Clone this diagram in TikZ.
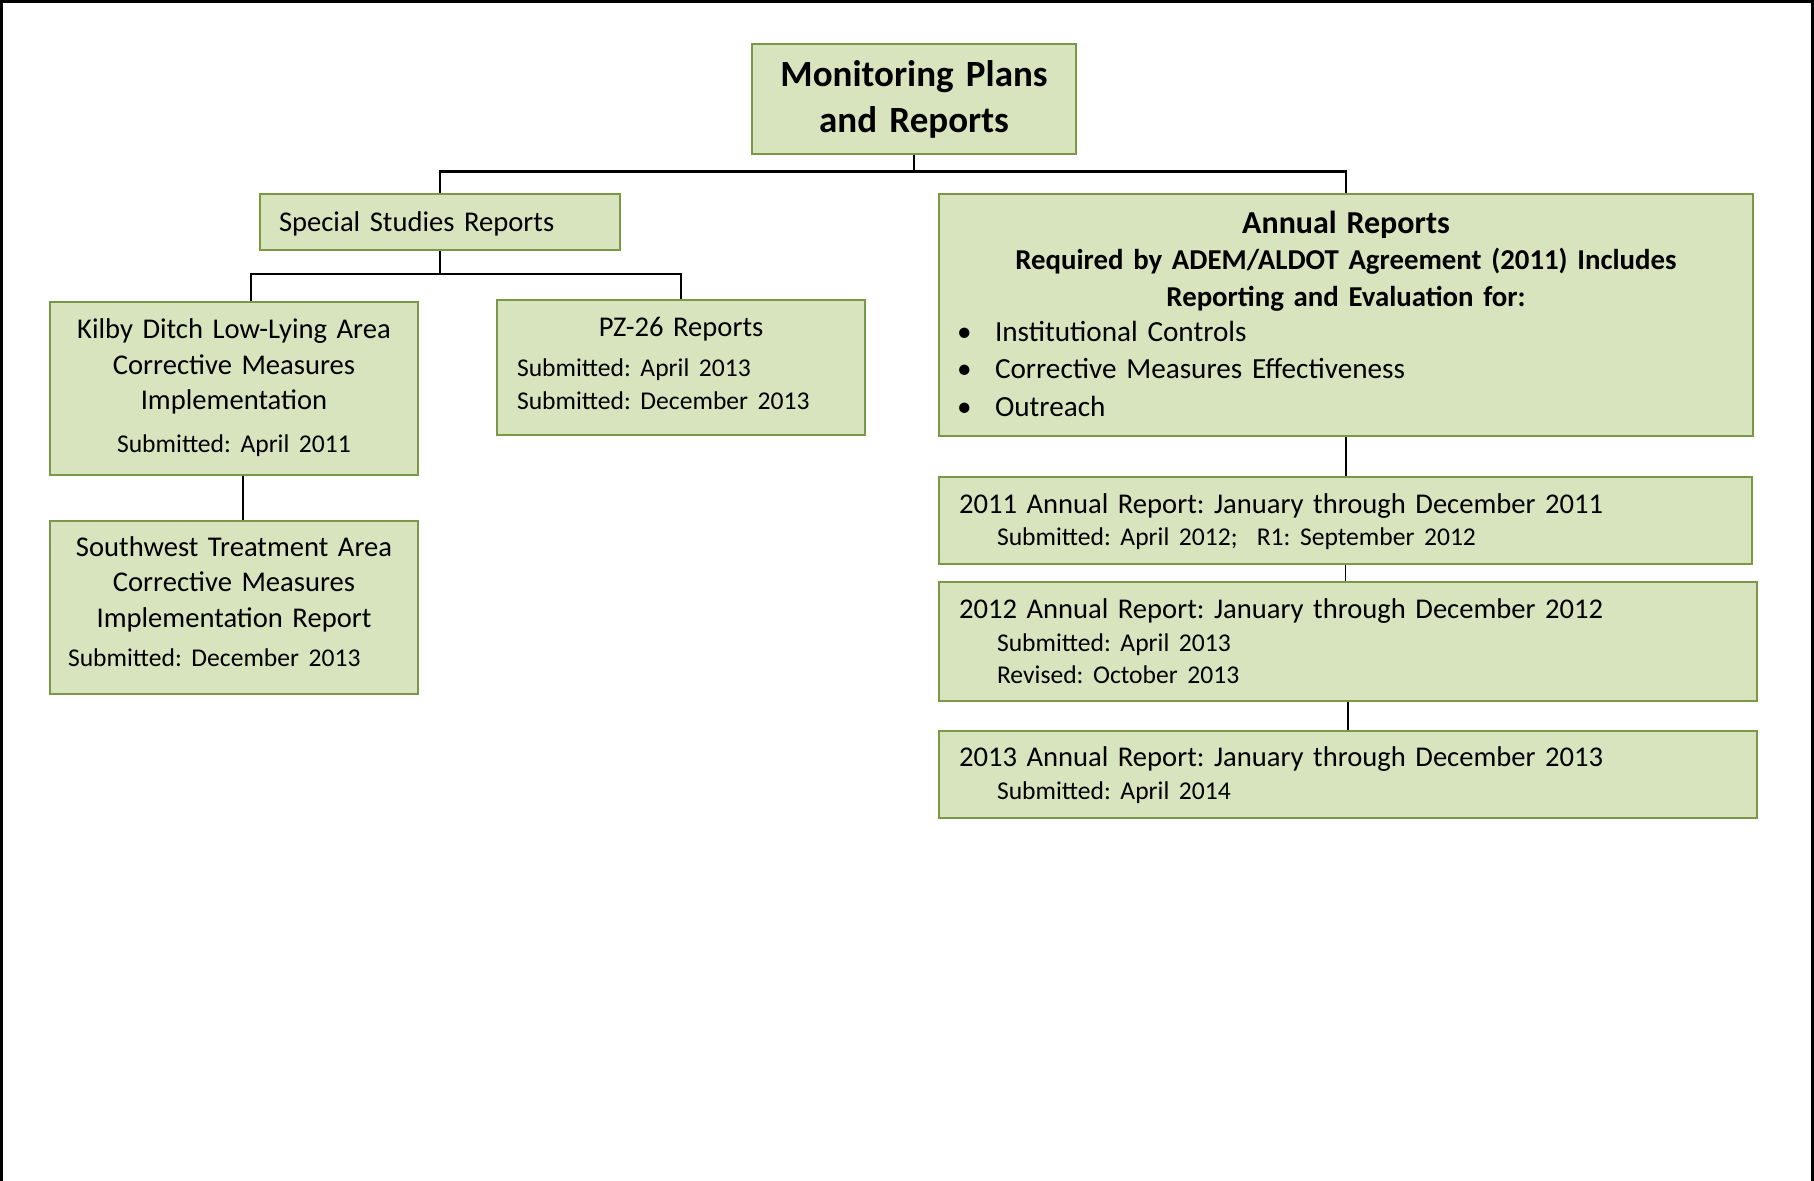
\documentclass[tikz,border=0pt]{standalone}
\usepackage{fontspec}
\setmainfont{Carlito}
\usepackage{tikz}
\usetikzlibrary{calc}
\definecolor{boxfill}{HTML}{D7E4BD}
\definecolor{boxline}{HTML}{7A9845}
\newcommand{\bodysize}{\frenchspacing\fontsize{14.3}{17.8}\selectfont}
\newcommand{\datesize}{\fontsize{12.8}{17.8}\selectfont}
\newcommand{\bullitem}[1]{\makebox[389pt][l]{\makebox[19pt][l]{\textbullet}#1}}

\begin{document}
\begin{tikzpicture}[x=0.5pt,y=-0.5pt,
    box/.style={draw=boxline,fill=boxfill,line width=1pt,rectangle,inner ysep=0pt,anchor=north,font=\bodysize},
    link/.style={line width=1.3pt,black},
    thinlink/.style={line width=0.7pt,black}]
    \useasboundingbox (0,0) rectangle (1814,1181);
    \draw[line width=1.65pt] (1.6,1181) -- (1.6,1.6) -- (1812.8,1.6) -- (1812.8,1181);
    \node[box,minimum width=162pt,minimum height=55pt,text height=21.3pt,text depth=33.7pt,text width=150pt,align=center,font=\fontsize{18.5}{23.2}\selectfont\bfseries] (plans) at (914,43) {Monitoring Plans\\and Reports};
    \node[box,minimum width=180pt,minimum height=28pt,text height=18.55pt,text depth=9.45pt,inner xsep=9.5pt,text width=161pt,align=left] (special) at (440,193) {Special Studies Reports};
    \node[box,minimum width=184pt,minimum height=86.5pt,text height=18.35pt,text depth=68.15pt,inner xsep=5pt,text width=174pt,align=center] (kilby) at (234,301) {Kilby Ditch Low-Lying Area\\Corrective Measures\\Implementation\\[3.6pt]\datesize Submitted: April 2011};
    \node[box,minimum width=184pt,minimum height=86.5pt,text height=17.65pt,text depth=68.85pt,inner xsep=9pt,text width=166pt,align=center] (southwest) at (234,520) {Southwest Treatment Area\\Corrective Measures\\Implementation Report\\[1.9pt]\datesize\makebox[166pt][l]{Submitted: December 2013}};
    \node[box,minimum width=184pt,minimum height=67.5pt,text height=18.2pt,text depth=49.3pt,inner xsep=10pt,text width=164pt,align=left] (pz) at (681,299) {\makebox[164pt]{PZ-26 Reports}\\[2.4pt]\datesize Submitted: April 2013\\[-1.6pt]Submitted: December 2013};
    \node[box,minimum width=407pt,minimum height=121pt,text height=19.65pt,text depth=101.35pt,inner xsep=9pt,text width=389pt,align=center,font=\frenchspacing\fontsize{14.6}{18.3}\selectfont\bfseries] (annual) at (1346,193) {{\fontsize{16}{18.3}\selectfont Annual Reports}\\{\fontsize{14.4}{18.3}\selectfont Required by ADEM/ALDOT Agreement (2011) Includes}\\{\fontsize{14.4}{18.3}\selectfont Reporting and Evaluation for:}\\[-1pt]\mdseries\bullitem{Institutional Controls}\\[0.5pt]\bullitem{Corrective Measures Effectiveness}\\[0.5pt]\bullitem{Outreach}};
    \node[box,minimum width=406.5pt,minimum height=43.5pt,text height=18.25pt,text depth=25.25pt,inner xsep=10pt,text width=386.5pt,align=left] (ar2011) at (1345.5,476) {2011 Annual Report: January through December 2011\\[-1.6pt]\datesize\hspace*{19pt}Submitted: April 2012;\ \ R1: September 2012};
    \node[box,minimum width=409pt,minimum height=59.5pt,text height=18.35pt,text depth=41.15pt,inner xsep=10pt,text width=389pt,align=left] (ar2012) at (1348,581) {2012 Annual Report: January through December 2012\\[-1.6pt]\datesize\hspace*{19pt}Submitted: April 2013\\[-1.6pt]\hspace*{19pt}Revised: October 2013};
    \node[box,minimum width=409pt,minimum height=43.5pt,text height=17.9pt,text depth=25.6pt,inner xsep=10pt,text width=389pt,align=left] (ar2013) at (1348,730) {2013 Annual Report: January through December 2013\\[-1.6pt]\datesize\hspace*{19pt}Submitted: April 2014};
    \coordinate (topbus) at (914,171.5);
    \coordinate (ssbus) at (440,274);
    \draw[link] (plans.south) -- (topbus);
    \draw[link] (special.north) |- (topbus) -| (annual.north);
    \draw[link] (special.south) -- (ssbus);
    \draw[link] ([xshift=8.5pt]kilby.north) |- (ssbus) -| (pz.north);
    \draw[link] ([xshift=4.5pt]kilby.south) -- ([xshift=4.5pt]southwest.north);
    \draw[link] (annual.south) -- (annual.south |- ar2011.north);
    \draw[thinlink] (ar2011.south) -- (ar2011.south |- ar2012.north);
    \draw[thinlink] (ar2012.south) -- (ar2012.south |- ar2013.north);
\end{tikzpicture}
\end{document}
